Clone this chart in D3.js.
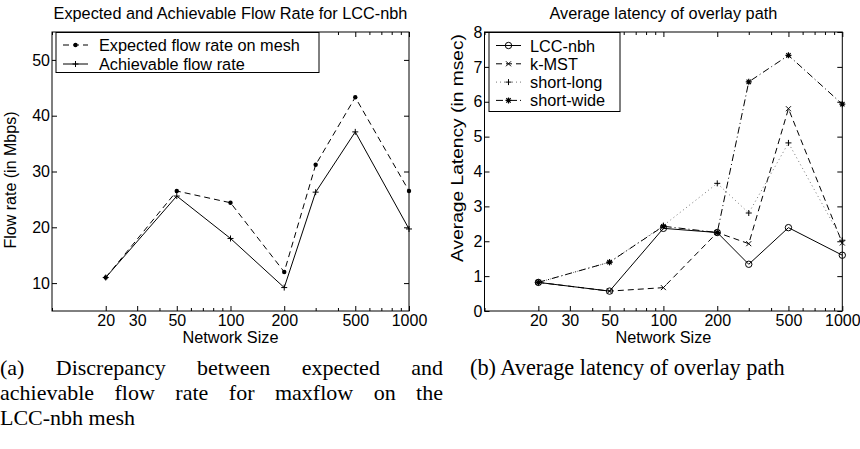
<!DOCTYPE html>
<html>
<head>
<meta charset="utf-8">
<script src="https://cdn.jsdelivr.net/npm/d3@7/dist/d3.min.js"></script>
<style>
  body { margin: 0; background: #fff; }
  svg { display: block; }
  text { font-family: "Liberation Sans", Arial, Helvetica, sans-serif; fill: #000; }
  .cap { font-family: "Liberation Serif", "Times New Roman", serif; }
</style>
</head>
<body>
<div id="fig"></div>
<script>
// network sizes on the x axis (both panels)
var sizes = [20, 50, 100, 200, 300, 500, 1000];
var xTicks = [20, 30, 50, 100, 200, 500, 1000];

// (a) flow rate in Mbps
var expectedRate   = [11.0, 26.5, 24.4, 12.0, 31.2, 43.3, 26.5];
var achievableRate = [11.0, 25.6, 18.0,  9.2, 26.3, 37.1, 19.7];
var rateTicks = [10, 20, 30, 40, 50];

// (b) average latency in msec
var lccNbh    = [0.82, 0.57, 2.37, 2.25, 1.34, 2.39, 1.60];
var kMst      = [0.82, 0.57, 0.67, 2.25, 1.93, 5.80, 1.95];
var shortLong = [0.82, 1.40, 2.45, 3.66, 2.81, 4.82, 2.03];
var shortWide = [0.82, 1.40, 2.43, 2.25, 6.57, 7.33, 5.93];
var latencyTicks = [0, 1, 2, 3, 4, 5, 6, 7, 8];

var W = 860, H = 449;
var svg = d3.select('#fig').append('svg')
    .attr('width', W)
    .attr('height', H);

var styles = {
  solid:   { dash: null,    color: '#000' },
  dashed:  { dash: '6,4',   color: '#000' },
  dotted:  { dash: '1,3',   color: '#777' },
  dashdot: { dash: '7,3,1,3', color: '#000' }
};

function marker(g, type, cx, cy) {
  var s = 3;
  if (type === 'dot') {
    g.append('circle').attr('cx', cx).attr('cy', cy).attr('r', 2.2).attr('fill', '#000');
  } else if (type === 'circle') {
    g.append('circle').attr('cx', cx).attr('cy', cy).attr('r', 3.2)
      .attr('fill', 'none').attr('stroke', '#000').attr('stroke-width', 1);
  } else if (type === 'plus') {
    g.append('path').attr('d', 'M'+(cx-s)+','+cy+'H'+(cx+s)+'M'+cx+','+(cy-s)+'V'+(cy+s))
      .attr('stroke', '#000').attr('stroke-width', 1);
  } else if (type === 'x') {
    g.append('path').attr('d', 'M'+(cx-2.5)+','+(cy-2.5)+'L'+(cx+2.5)+','+(cy+2.5)+'M'+(cx-2.5)+','+(cy+2.5)+'L'+(cx+2.5)+','+(cy-2.5))
      .attr('stroke', '#000').attr('stroke-width', 1);
  } else if (type === 'star') {
    g.append('path').attr('d', 'M'+(cx-s)+','+cy+'H'+(cx+s)+'M'+cx+','+(cy-s)+'V'+(cy+s)
      +'M'+(cx-2.2)+','+(cy-2.2)+'L'+(cx+2.2)+','+(cy+2.2)+'M'+(cx-2.2)+','+(cy+2.2)+'L'+(cx+2.2)+','+(cy-2.2))
      .attr('stroke', '#000').attr('stroke-width', 1.2);
  }
}

function panel(opt) {
  var x = d3.scaleLog().domain([10, 1000]).range([opt.left, opt.right]);
  var y = d3.scaleLinear().domain(opt.yDomain).range([opt.bottom, opt.top]);
  var g = svg.append('g');

  var minor = x.ticks().filter(function (d) { return xTicks.indexOf(d) < 0; });

  // x ticks inside, bottom and top
  g.append('g').attr('transform', 'translate(0,' + opt.bottom + ')')
    .call(d3.axisBottom(x).tickValues(xTicks).tickSize(-5).tickPadding(4).tickFormat(d3.format('d')));
  g.append('g').attr('transform', 'translate(0,' + opt.bottom + ')')
    .call(d3.axisBottom(x).tickValues(minor).tickSize(-3).tickFormat(''));
  g.append('g').attr('transform', 'translate(0,' + opt.top + ')')
    .call(d3.axisTop(x).tickValues(xTicks).tickSize(-5).tickFormat(''));
  g.append('g').attr('transform', 'translate(0,' + opt.top + ')')
    .call(d3.axisTop(x).tickValues(minor).tickSize(-3).tickFormat(''));
  // y ticks inside, left and right
  g.append('g').attr('transform', 'translate(' + opt.left + ',0)')
    .call(d3.axisLeft(y).tickValues(opt.yTicks).tickSize(-5).tickPadding(2));
  g.append('g').attr('transform', 'translate(' + opt.right + ',0)')
    .call(d3.axisRight(y).tickValues(opt.yTicks).tickSize(-5).tickFormat(''));

  g.selectAll('.domain').remove();
  g.selectAll('.tick line').attr('stroke', '#000');
  g.selectAll('.tick text').attr('font-size', 16).attr('fill', '#000')
    .style('font-family', '"Liberation Sans", Arial, sans-serif');

  g.append('rect')
    .attr('x', opt.left).attr('y', opt.top)
    .attr('width', opt.right - opt.left).attr('height', opt.bottom - opt.top)
    .attr('fill', 'none').attr('stroke', '#000').attr('stroke-width', 1);

  var line = d3.line()
    .x(function (d, i) { return x(sizes[i]); })
    .y(function (d) { return y(d); });

  opt.series.forEach(function (s) {
    var st = styles[s.style];
    g.append('path').datum(s.values)
      .attr('d', line)
      .attr('fill', 'none')
      .attr('stroke', st.color)
      .attr('stroke-width', 1)
      .attr('stroke-dasharray', st.dash);
    s.values.forEach(function (v, i) { marker(g, s.marker, x(sizes[i]), y(v)); });
  });

  // legend
  var L = opt.legend;
  g.append('rect').attr('x', L.x).attr('y', L.y).attr('width', L.w).attr('height', L.h)
    .attr('fill', '#fff').attr('stroke', '#000').attr('stroke-width', 1);
  opt.series.forEach(function (s, i) {
    var st = styles[s.style];
    var cy = L.y + L.first + i * L.step;
    g.append('line').attr('x1', L.x + 7).attr('x2', L.x + 32).attr('y1', cy).attr('y2', cy)
      .attr('stroke', st.color).attr('stroke-width', 1).attr('stroke-dasharray', st.dash);
    marker(g, s.marker, L.x + 19.5, cy);
    g.append('text').attr('x', L.x + L.tx).attr('y', cy + 6)
      .attr('font-size', 16.3).text(s.name);
  });

  g.append('text').attr('x', (opt.left + opt.right) / 2).attr('y', 19)
    .attr('text-anchor', 'middle').attr('font-size', 16.3).text(opt.title);
  g.append('text').attr('x', (opt.left + opt.right) / 2).attr('y', 343)
    .attr('text-anchor', 'middle').attr('font-size', 16.3).text('Network Size');
  // the right-hand label is drawn longer than its glyph size in the original
  g.append('text')
    .attr('transform', 'translate(' + opt.yLabelX + ',' + opt.yLabelY + ') rotate(-90) scale(' + opt.yLabelStretch + ',1)')
    .attr('text-anchor', 'middle').attr('font-size', 16).text(opt.yLabel);
}

panel({
  left: 52, right: 409, top: 32, bottom: 311,
  yDomain: [5, 55], yTicks: rateTicks,
  title: 'Expected and Achievable Flow Rate for LCC-nbh',
  yLabel: 'Flow rate (in Mbps)', yLabelX: 16, yLabelY: 180, yLabelStretch: 1,
  legend: { x: 56, y: 32.5, w: 263, h: 40, first: 12.5, step: 19, tx: 43 },
  series: [
    { name: 'Expected flow rate on mesh', values: expectedRate, style: 'dashed', marker: 'dot' },
    { name: 'Achievable flow rate', values: achievableRate, style: 'solid', marker: 'plus' }
  ]
});

panel({
  left: 484.5, right: 842.3, top: 32, bottom: 311,
  yDomain: [0, 8], yTicks: latencyTicks,
  title: 'Average latency of overlay path',
  yLabel: 'Average Latency (in msec)', yLabelX: 463, yLabelY: 148, yLabelStretch: 1.2,
  legend: { x: 489, y: 32.5, w: 131, h: 79, first: 13, step: 18.3, tx: 41 },
  series: [
    { name: 'LCC-nbh', values: lccNbh, style: 'solid', marker: 'circle' },
    { name: 'k-MST', values: kMst, style: 'dashed', marker: 'x' },
    { name: 'short-long', values: shortLong, style: 'dotted', marker: 'plus' },
    { name: 'short-wide', values: shortWide, style: 'dashdot', marker: 'star' }
  ]
});

// sub-figure captions, first two lines of (a) justified to the column width
var capA = ['(a) Discrepancy between expected and', 'achievable flow rate for maxflow on the'];
capA.forEach(function (t, i) {
  var txt = svg.append('text').attr('class', 'cap').attr('x', 0).attr('y', 375 + i * 25)
    .attr('font-size', 22).text(t);
  var gaps = t.split(' ').length - 1;
  var extra = (443 - txt.node().getComputedTextLength()) / gaps;
  txt.style('word-spacing', extra + 'px');
});
svg.append('text').attr('class', 'cap').attr('x', 0).attr('y', 425)
  .attr('font-size', 22).text('LCC-nbh mesh');
svg.append('text').attr('class', 'cap').attr('x', 470).attr('y', 375)
  .attr('font-size', 22.3).text('(b) Average latency of overlay path');
</script>
</body>
</html>
